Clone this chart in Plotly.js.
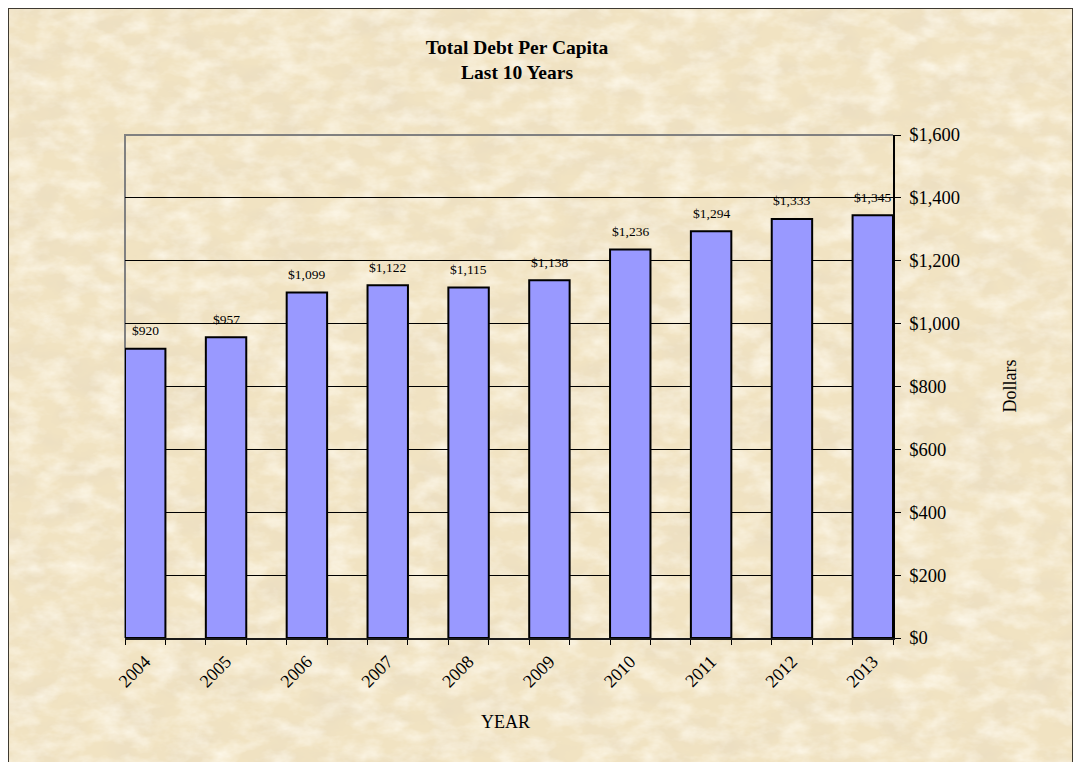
<!DOCTYPE html>
<html>
<head>
<meta charset="utf-8">
<script src="https://cdn.plot.ly/plotly-3.0.1.min.js"></script>
<style>
  html, body { margin: 0; padding: 0; width: 1073px; height: 762px; overflow: hidden; background: #ffffff; }
  #frame {
    position: absolute; left: 8px; top: 8px; width: 1065px; height: 800px;
    box-sizing: border-box; border: 1.5px solid #3e3a31; overflow: hidden;
    background: #f1e3c2;
  }
  #frame svg { position: absolute; left: 0; top: 0; }
  #chart { position: absolute; left: 0; top: 0; width: 1073px; height: 762px; }
</style>
</head>
<body>
<div id="frame">
  <!-- parchment paper texture -->
  <svg width="1065" height="800" xmlns="http://www.w3.org/2000/svg">
    <filter id="paper" x="0" y="0" width="100%" height="100%">
      <feTurbulence type="fractalNoise" baseFrequency="0.02 0.035" numOctaves="5" seed="7"/>
      <feColorMatrix type="matrix" values="0 0 0 0 0.82  0 0 0 0 0.72  0 0 0 0 0.54  1.6 0 0 0 -0.64"/>
    </filter>
    <filter id="light" x="0" y="0" width="100%" height="100%">
      <feTurbulence type="fractalNoise" baseFrequency="0.035 0.06" numOctaves="4" seed="19"/>
      <feColorMatrix type="matrix" values="0 0 0 0 0.99  0 0 0 0 0.95  0 0 0 0 0.85  1.6 0 0 0 -0.62"/>
    </filter>
    <rect width="100%" height="100%" fill="#f1e3c2"/>
    <rect width="100%" height="100%" filter="url(#paper)"/>
    <rect width="100%" height="100%" filter="url(#light)"/>
  </svg>
</div>
<div id="chart"></div>
<script>
// Total debt per capita, fiscal years 2004-2013
const years = ['2004', '2005', '2006', '2007', '2008', '2009', '2010', '2011', '2012', '2013'];
const debtPerCapita = [920, 957, 1099, 1122, 1115, 1138, 1236, 1294, 1333, 1345];
const yTickValues = [0, 200, 400, 600, 800, 1000, 1200, 1400, 1600];

const serif = 'Liberation Serif, Times New Roman, serif';
const money = v => '$' + v.toLocaleString('en-US');
const idx = years.map((_, i) => i);

const bars = {
  type: 'bar',
  x: idx,
  y: debtPerCapita,
  width: 0.5,
  marker: { color: '#9999ff', line: { color: '#000000', width: 2 } },
  hoverinfo: 'skip'
};

const valueLabels = debtPerCapita.map((v, i) => ({
  x: i, y: v, xref: 'x', yref: 'y',
  text: money(v),
  showarrow: false, yanchor: 'middle', yshift: 18,
  font: { family: serif, size: 13.5, color: '#000000' }
}));

// vertical axis title, placed to the right of the dollar tick labels
const dollarsTitle = {
  text: 'Dollars', textangle: -90,
  xref: 'paper', yref: 'paper', x: 1, y: 0.5,
  xshift: 128, showarrow: false,
  font: { family: serif, size: 18, color: '#000000' }
};

// horizontal axis title
const yearTitle = {
  text: 'YEAR',
  xref: 'paper', yref: 'paper', x: 0.5, y: 0,
  xshift: -4, yshift: -84, yanchor: 'middle', showarrow: false,
  font: { family: serif, size: 18, color: '#000000' }
};

const layout = {
  width: 1073, height: 762,
  margin: { l: 125, r: 180, t: 135, b: 124 },
  paper_bgcolor: 'rgba(0,0,0,0)',
  plot_bgcolor: 'rgba(0,0,0,0)',
  showlegend: false,
  font: { family: serif, color: '#000000' },
  title: {
    text: '<b>Total Debt Per Capita</b><br><b>Last 10 Years</b>',
    font: { family: serif, size: 19.5, color: '#000000' },
    x: 517 / 1073, xref: 'container', xanchor: 'center',
    y: 1 - 54 / 762, yref: 'container', yanchor: 'middle'
  },
  xaxis: {
    type: 'linear',
    range: [-0.25, idx.length - 0.75],
    tickmode: 'array', tickvals: idx, ticktext: years,
    tickangle: -45, ticks: '', ticklabelstandoff: 4,
    tickfont: { family: serif, size: 18 },
    showgrid: false, zeroline: false,
    showline: true, linecolor: '#1a1a1a', linewidth: 2,
    minor: { tickmode: 'linear', tick0: 0.25, dtick: 0.5, ticks: 'outside', ticklen: 5, tickwidth: 1, tickcolor: '#000000', showgrid: false },
    fixedrange: true
  },
  yaxis: {
    side: 'right',
    range: [0, 1600],
    tickmode: 'array', tickvals: yTickValues, ticktext: yTickValues.map(money),
    ticks: 'outside', ticklen: 6, tickwidth: 1, tickcolor: '#000000',
    ticklabelstandoff: 5,
    tickfont: { family: serif, size: 18.5 },
    showline: true, linecolor: '#000000', linewidth: 1.5,
    showgrid: true, gridcolor: '#000000', gridwidth: 1,
    zeroline: false,
    fixedrange: true
  },
  shapes: [{
    type: 'path', xref: 'paper', yref: 'paper',
    path: 'M 0 0 L 0 1 L 1 1',
    line: { color: '#808080', width: 2 },
    layer: 'between'
  }],
  annotations: valueLabels.concat([dollarsTitle, yearTitle])
};

Plotly.newPlot('chart', [bars], layout, { staticPlot: true, displayModeBar: false });
</script>
</body>
</html>
